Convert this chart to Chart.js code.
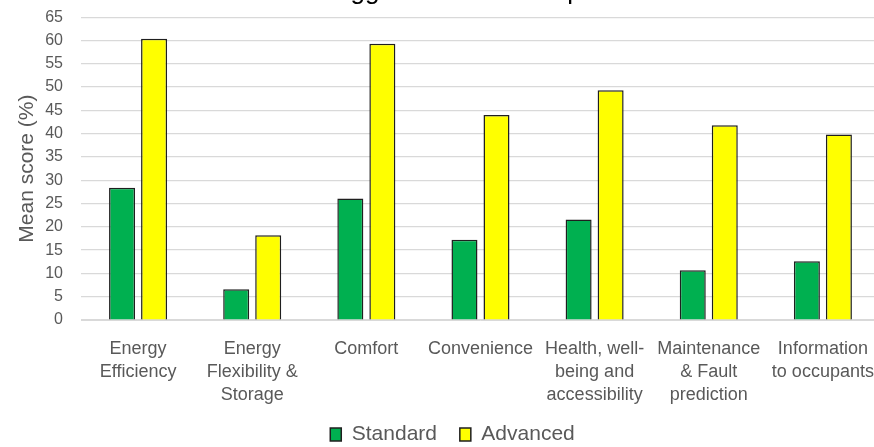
<!DOCTYPE html>
<html>
<head>
<meta charset="utf-8">
<script src="https://cdn.jsdelivr.net/npm/chart.js@4"></script>
<style>
    html, body { margin: 0; padding: 0; background: #ffffff; overflow: hidden; width: 874px; height: 447px; }
    #wrap { position: absolute; left: 0; top: -24px; width: 891px; height: 479px; }
</style>
</head>
<body>
<div id="wrap"><canvas id="myChart"></canvas></div>
<script>
// Chart data
const chartTitle = 'Suggested level of implementation';
const categories = [
    ['Energy', 'Efficiency'],
    ['Energy', 'Flexibility &', 'Storage'],
    ['Comfort'],
    ['Convenience'],
    ['Health, well-', 'being and', 'accessibility'],
    ['Maintenance', '& Fault', 'prediction'],
    ['Information', 'to occupants']
];
const standardScores = [28.4, 6.6, 26.1, 17.2, 21.6, 10.7, 12.6];
const advancedScores = [60.4, 18.2, 59.3, 44.0, 49.3, 41.8, 39.8];
const yTicks = { min: 0, max: 65, step: 5 };

const FONT = "'Liberation Sans', Arial, sans-serif";
const GREY_TEXT = '#595959';
const GRID = '#d9d9d9';

const ctx = document.getElementById('myChart');

new Chart(ctx, {
    type: 'bar',
    data: {
        labels: categories,
        datasets: [{
            label: 'Standard\u00a0',
            data: standardScores,
            backgroundColor: '#00b050',
            borderColor: '#1f1f1f',
            borderWidth: 1.5
        }, {
            label: 'Advanced',
            data: advancedScores,
            backgroundColor: '#ffff00',
            borderColor: '#1f1f1f',
            borderWidth: 1.5
        }]
    },
    options: {
        responsive: true,
        maintainAspectRatio: false,
        animation: false,
        categoryPercentage: 0.561,
        barPercentage: 0.8125,
        layout: { padding: { left: 15, right: 1, top: 0, bottom: 0 } },
        plugins: {
            title: {
                display: true,
                // leading spaces push the (cropped) title to the right like the original
                text: '\u2003\u2003\u2003\u2003\u2003' + chartTitle,
                color: '#000000',
                font: { family: FONT, size: 26, weight: 'normal' },
                padding: { top: 0, bottom: 10 }
            },
            legend: {
                position: 'bottom',
                labels: {
                    color: GREY_TEXT,
                    font: { family: FONT, size: 21 },
                    boxWidth: 11,
                    boxHeight: 13,
                    padding: 17
                }
            },
            tooltip: { enabled: false }
        },
        scales: {
            x: {
                grid: { display: false, drawTicks: false },
                border: { display: true, color: GRID, width: 1 },
                ticks: {
                    color: GREY_TEXT,
                    font: { family: FONT, size: 18, lineHeight: 1.3 },
                    padding: 17,
                    maxRotation: 0,
                    minRotation: 0,
                    autoSkip: false
                },
                // fixed axis height so the plot reaches down like the original
                afterFit: (scale) => { scale.height = 87; }
            },
            y: {
                min: yTicks.min,
                max: yTicks.max,
                grid: { color: GRID, lineWidth: 1.25, drawTicks: false },
                border: { display: false },
                ticks: {
                    stepSize: yTicks.step,
                    color: GREY_TEXT,
                    font: { family: FONT, size: 16 },
                    padding: 18
                },
                title: {
                    display: true,
                    text: 'Mean score (%)',
                    color: GREY_TEXT,
                    font: { family: FONT, size: 21 },
                    padding: { top: 0, bottom: 8 }
                },
                afterFit: (scale) => { scale.width = 66; }
            }
        }
    }
});
</script>
</body>
</html>
